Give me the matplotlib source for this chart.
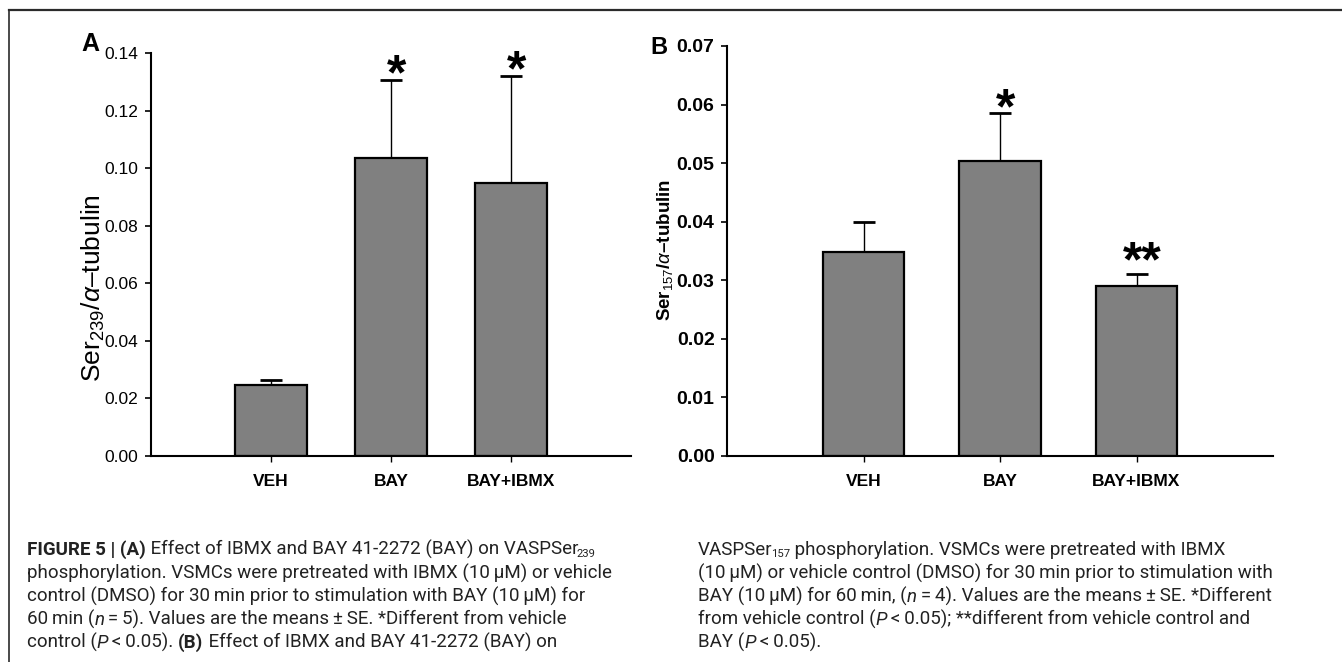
import numpy as np
import matplotlib
matplotlib.use("Agg")
import matplotlib.pyplot as plt
from matplotlib.lines import Line2D

# --- data ---
groups = ["VEH", "BAY", "BAY+IBMX"]
ser239_mean = [0.0247, 0.1036, 0.0947]
ser239_se = [0.0017, 0.0270, 0.0373]
ser239_sig = ["", "*", "*"]
ser157_mean = [0.0348, 0.0504, 0.0290]
ser157_se = [0.0051, 0.0081, 0.0021]
ser157_sig = ["", "*", "**"]

W, H = 1342, 662
plt.rcParams["font.family"] = ["Liberation Sans", "DejaVu Sans"]
plt.rcParams["mathtext.fontset"] = "custom"
plt.rcParams["mathtext.rm"] = "Liberation Sans"
plt.rcParams["mathtext.it"] = "Liberation Sans:italic"
plt.rcParams["mathtext.bf"] = "Liberation Sans:bold"

fig = plt.figure(figsize=(W / 100, H / 100), dpi=100)


def px_axes(left, right, top, bottom):
    return fig.add_axes([left / W, (H - bottom) / H, (right - left) / W, (bottom - top) / H])


def bar_panel(ax, means, se, sig, ymax, step, tick_weight, tick_size, xlab_family):
    x = np.arange(1, len(groups) + 1)
    ax.bar(x, means, width=0.6, color="#808080", edgecolor="black", linewidth=1.6, zorder=2)
    ax.errorbar(x, means, yerr=[np.zeros(len(se)), se], fmt="none", ecolor="black",
                elinewidth=1.0, capsize=8, capthick=2.0, zorder=1)
    for xi, m, s, lab in zip(x, means, se, sig):
        if lab:
            dy = -2 if len(lab) > 1 else -7
            ax.annotate(lab, (xi, m + s), xytext=(4, dy), textcoords="offset points",
                        ha="center", va="baseline", fontsize=36, fontweight="bold")
    ax.set_xlim(0, 4)
    ax.set_ylim(0, ymax)
    ax.set_yticks(np.arange(0, ymax + step / 2, step))
    ax.yaxis.set_major_formatter(plt.FormatStrFormatter("%.2f"))
    ax.set_xticks(x)
    ax.set_xticklabels(groups, fontsize=12.5, fontweight="bold", family=xlab_family)
    for t in ax.get_yticklabels():
        t.set_fontweight(tick_weight)
    ax.tick_params(axis="y", labelsize=tick_size, length=4, width=1.2, pad=5)
    ax.tick_params(axis="x", length=4, width=1.0, pad=9)
    for sp in ["top", "right"]:
        ax.spines[sp].set_visible(False)
    for sp in ["left", "bottom"]:
        ax.spines[sp].set_linewidth(1.5)


axA = px_axes(151, 631, 53, 456)
bar_panel(axA, ser239_mean, ser239_se, ser239_sig, 0.14, 0.02, "normal", 12.5,
          ["Liberation Sans Narrow", "Liberation Sans"])
axB = px_axes(727, 1273, 46, 456)
bar_panel(axB, ser157_mean, ser157_se, ser157_sig, 0.07, 0.01, "bold", 14, ["Liberation Sans"])

fig.text(93 / W, 1 - 288 / H, r"Ser$_{239}$/$\alpha$–tubulin", rotation=90,
         ha="center", va="center", fontsize=19)
fig.text(665 / W, 1 - 250 / H, r"Ser$_{157}$/$\mathit{\alpha}$–tubulin", rotation=90,
         ha="center", va="center", fontsize=13.5, fontweight="bold")
fig.text(90 / W, 1 - 44 / H, "A", ha="center", va="center", fontsize=18, fontweight="bold")
fig.text(659 / W, 1 - 47 / H, "B", ha="center", va="center", fontsize=17, fontweight="bold")

# partial frame (top and left)
fig.add_artist(Line2D([9 / W, 1], [1 - 10 / H, 1 - 10 / H], color="#2b2b2b", lw=1.6))
fig.add_artist(Line2D([9 / W, 9 / W], [0, 1 - 10 / H], color="#2b2b2b", lw=1.2))

# --- caption, drawn as runs of styled text ---
cap_font = "Roboto"
cap_size = 13.5
renderer = fig.canvas.get_renderer()


def run_line(x, baseline, runs):
    for txt, style in runs:
        kw = dict(fontsize=cap_size, family=cap_font, va="baseline", ha="left", color="#222222")
        yy = baseline
        if style == "b":
            kw["fontweight"] = "bold"
        elif style == "i":
            kw["fontstyle"] = "italic"
        elif style == "sub":
            kw["fontsize"] = cap_size * 0.6
            yy = baseline + 2
            x -= 1.5
        t = fig.text(x / W, 1 - yy / H, txt.replace(" ", "\u00a0"), **kw)
        x += t.get_window_extent(renderer).width


mu = "\u03bc"
left_lines = [
    [("FIGURE 5 | (A)", "b"), (" Effect of IBMX and BAY 41-2272 (BAY) on VASPSer", ""), ("239", "sub")],
    [("phosphorylation. VSMCs were pretreated with IBMX (10\u2009" + mu + "M) or vehicle", "")],
    [("control (DMSO) for 30\u2009min prior to stimulation with BAY (10\u2009" + mu + "M) for", "")],
    [("60\u2009min (", ""), ("n", "i"), ("\u2009=\u20095). Values are the means\u2009\u00b1\u2009SE. *Different from vehicle", "")],
    [("control (", ""), ("P", "i"), ("\u2009<\u20090.05). ", ""), ("(B)", "b"), (" Effect of IBMX and BAY 41-2272 (BAY) on", "")],
]
right_lines = [
    [("VASPSer", ""), ("157", "sub"), (" phosphorylation. VSMCs were pretreated with IBMX", "")],
    [("(10\u2009" + mu + "M) or vehicle control (DMSO) for 30\u2009min prior to stimulation with", "")],
    [("BAY (10\u2009" + mu + "M) for 60\u2009min, (", ""), ("n", "i"), ("\u2009=\u20094). Values are the means\u2009\u00b1\u2009SE. *Different", "")],
    [("from vehicle control (", ""), ("P", "i"), ("\u2009<\u20090.05); **different from vehicle control and", "")],
    [("BAY (", ""), ("P", "i"), ("\u2009<\u20090.05).", "")],
]
for k, runs in enumerate(left_lines):
    run_line(27, 555 + 23.3 * k, runs)
for k, runs in enumerate(right_lines):
    run_line(698, 555 + 23.3 * k, runs)

fig.savefig("out.png", dpi=100)
